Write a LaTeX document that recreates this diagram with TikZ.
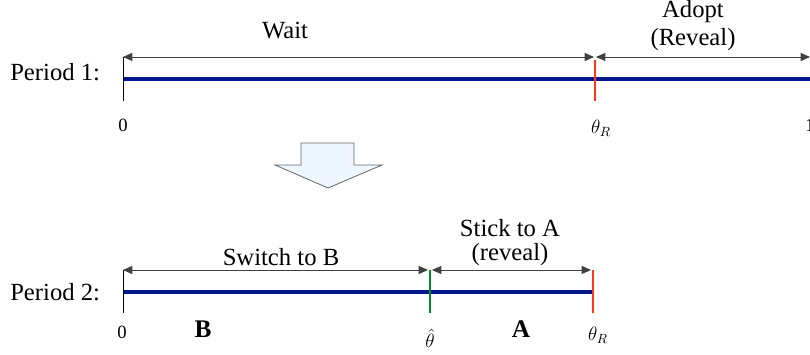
\documentclass[tikz,border=0pt]{standalone}
\usepackage{fontspec}
\setmainfont{Liberation Serif}
\usetikzlibrary{arrows.meta}
\definecolor{lineblue}{RGB}{0,24,140}
\definecolor{tickred}{RGB}{255,55,25}
\definecolor{tickgreen}{RGB}{0,140,40}
\definecolor{boxfill}{RGB}{238,246,255}
\tikzset{
  span/.style={{Triangle[length=7pt,width=6pt]}-{Triangle[length=7pt,width=6pt]},color=black!75,line width=0.7pt},
  axis/.style={color=lineblue,line width=3.6pt},
  lbl/.style={inner sep=0.75pt,font=\fontsize{18.5}{21}\selectfont},
  bold/.style={inner sep=0.75pt,font=\fontsize{19}{21}\selectfont\bfseries},
  num/.style={inner sep=0.75pt,font=\fontsize{14}{16}\selectfont},
}
\begin{document}
\begin{tikzpicture}[x=0.75pt,y=0.75pt,yscale=-1,xscale=1]
		\useasboundingbox (0,0) rectangle (810,354);

		% Period 1
		\coordinate (aS) at (123,79);
		\coordinate (aE) at (812,79);
		\coordinate (wS) at (123,57);
		\coordinate (wE) at (594,57);
		\coordinate (dS) at (596,57);
		\coordinate (dE) at (810,57);
		\draw [axis] (aS) -- (aE) ;
		\draw [line width=0.6pt] (123,57) -- (123,101) ;
		\draw [color=tickred,line width=2pt] (595,60) -- (595,101) ;
		\draw [span] (wS) -- (wE) ;
		\draw [span] (dS) -- (dE) ;

		% Text Node
		\node (per1) [lbl,anchor=west] at (9,72) {Period 1:};
		\node (wait) [lbl] at (285,31) {Wait};
		\node (adopt) [lbl] at (693,12) {Adopt};
		\node (reveal1) [lbl] at (693,40) {(Reveal)};
		\node (zero1) [num] at (123,125) {0};
		\node (thR1) [num] at (601,128) {$\theta_R$};
		\node (one1) [num,anchor=west] at (804,125) {1};

		% Block arrow
		\draw [color=black!60,line width=0.6pt,fill=boxfill] (301,143) -- (354,143) -- (354,165) -- (382,165) -- (328,188) -- (275,165) -- (301,165) -- cycle ;

		% Period 2
		\coordinate (bS) at (123,292);
		\coordinate (bE) at (593,292);
		\coordinate (sS) at (123,270);
		\coordinate (sE) at (428,270);
		\coordinate (kS) at (432,270);
		\coordinate (kE) at (591,270);
		\draw [axis] (bS) -- (bE) ;
		\draw [line width=0.6pt] (123,270) -- (123,313) ;
		\draw [color=tickgreen,line width=2pt] (430,270) -- (430,313) ;
		\draw [color=tickred,line width=2pt] (593,270) -- (593,313) ;
		\draw [span] (sS) -- (sE) ;
		\draw [span] (kS) -- (kE) ;

		% Text Node
		\node (per2) [lbl,anchor=west] at (9,292) {Period 2:};
		\node (switch) [lbl] at (281,257) {Switch to B};
		\node (stick) [lbl] at (510,228) {Stick to A};
		\node (reveal2) [lbl] at (510,255) {(reveal)};
		\node (zero2) [num] at (122,332) {0};
		\node (regB) [bold] at (203,329) {B};
		\node (thhat) [num] at (430,338) {$\hat{\theta}$};
		\node (regA) [bold] at (521,329) {A};
		\node (thR2) [num] at (598,335) {$\theta_R$};
\end{tikzpicture}
\end{document}
